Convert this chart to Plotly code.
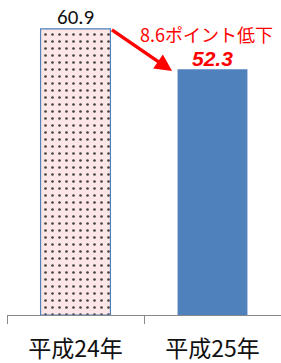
import plotly.graph_objects as go

categories = ["平成24年", "平成25年"]
values = [60.9, 52.3]
value_labels = ["60.9", "52.3"]
change_label = "8.6ポイント低下"

bar_width = 0.51
fig = go.Figure()
fig.add_trace(go.Bar(
    x=categories, y=values, width=bar_width,
    marker=dict(
        color=["#fde6e6", "#4f81bd"],
        line=dict(color=["#4f81bd", "#4f81bd"], width=[1.2, 0]),
        pattern=dict(shape=[".", ""], fgcolor="#6e4a50",
                     size=7, solidity=0.12, fgopacity=1, fillmode="overlay"),
    ),
    showlegend=False, hoverinfo="skip",
))

cjk = "Noto Sans CJK JP"
fig.add_annotation(x=0, y=values[0], text=value_labels[0], showarrow=False,
                   yshift=12, font=dict(family="Carlito, Liberation Sans, " + cjk, size=21, color="#111111"))
fig.add_annotation(x=1, y=values[1], text="<b><i>" + value_labels[1] + "</i></b>", showarrow=False,
                   yshift=11, xshift=0, font=dict(family="Liberation Sans", size=21, color="#ff0000"))
fig.add_annotation(x=1, y=values[0], text=change_label, showarrow=False, xshift=-6, yshift=-5,
                   font=dict(family=cjk, size=18, color="#ff0000"))
# arrow from top-right of first bar to near second bar
fig.add_annotation(x=1 - bar_width / 2 - 0.04, y=values[1] - 0.4,
                   ax=bar_width / 2, ay=values[0], axref="x", ayref="y",
                   text="", showarrow=True, arrowhead=2, arrowsize=1.0, arrowwidth=3.4,
                   arrowcolor="#ff0000", standoff=0)

fig.update_layout(
    width=281, height=363,
    margin=dict(l=7, r=0, t=10, b=48, autoexpand=False),
    plot_bgcolor="white", paper_bgcolor="white",
    font=dict(family=cjk),
)
fig.update_xaxes(
    range=[-0.5, 1.5], showline=True, linecolor="#888888", linewidth=1.2,
    ticks="outside", tickson="boundaries", ticklen=8, tickcolor="#888888", tickwidth=1.2,
    tickfont=dict(family=cjk, size=23, color="#111111"), ticklabelstandoff=13,
    showgrid=False, fixedrange=True, automargin=False,
)
fig.update_yaxes(range=[0, 64.9], visible=False, showgrid=False, fixedrange=True, automargin=False)

fig.write_html("out.html", config={"displayModeBar": False},
               post_script="document.body.style.margin='0';document.body.style.padding='0';")
